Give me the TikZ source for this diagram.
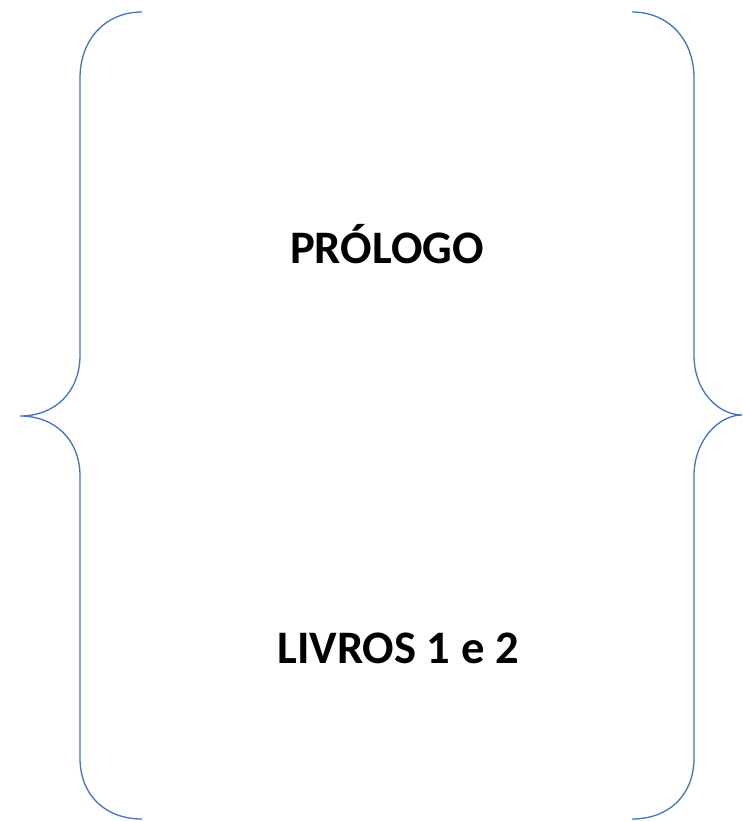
\documentclass[tikz,border=0pt]{standalone}
\usepackage{fontspec}
\setmainfont{Carlito}
\usepackage{tikz}
\usetikzlibrary{positioning}
\definecolor{braceblue}{HTML}{4472C4}

\begin{document}
\begin{tikzpicture}[x=1pt,y=-1pt,
  bracket/.style={draw=braceblue,line width=1.3pt},
  title/.style={font=\fontsize{46.6}{50}\selectfont\bfseries,inner sep=0pt}]
\useasboundingbox (0,0) rectangle (742,821);

% Left brace
\draw[bracket] (142,12) .. controls (105,12) and (80,40) .. (80,78)
  -- (80,355) .. controls (80,392) and (55,416) .. (20,416)
  .. controls (55,416) and (80,440) .. (80,476)
  -- (80,758) .. controls (80,795) and (105,819) .. (142,819);

% Right brace
\draw[bracket] (632,12) .. controls (669,12) and (694,40) .. (694,78)
  -- (694,355) .. controls (694,392) and (719,415) .. (742,415)
  .. controls (719,415) and (694,440) .. (694,476)
  -- (694,758) .. controls (694,795) and (669,819) .. (632,819);

% Labels
\node[title,anchor=base] (prologo) at (387,263) {PRÓLOGO};
\node[title,anchor=base] (livros) at (398,663) {LIVROS 1 e 2};
\end{tikzpicture}
\end{document}
